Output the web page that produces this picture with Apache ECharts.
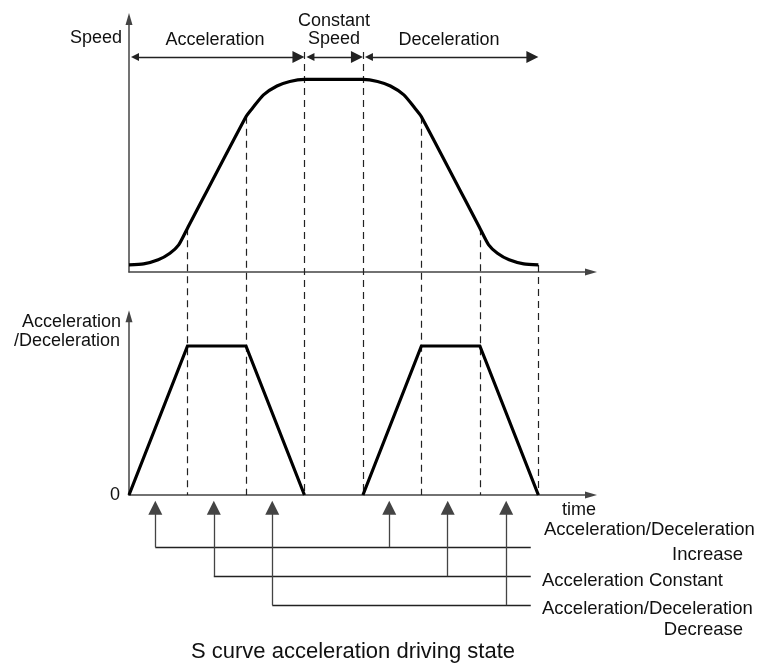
<!DOCTYPE html>
<html>
<head>
<meta charset="utf-8">
<script src="https://cdn.jsdelivr.net/npm/echarts@6/dist/echarts.min.js"></script>
<style>html,body{margin:0;padding:0;background:#fff;}#c{width:768px;height:664px;}</style>
</head>
<body>
<div id="c"></div>
<script>
// ---- data ----
const phaseNames = ['Acceleration', 'Constant\nSpeed', 'Deceleration'];
const phaseStart = [0, 3, 4];
const phaseEnd = [3, 4, 7];
const phaseLevel = 85;          // speed-axis level of the phase arrows
const boundaryTop = 87;         // dashed boundary lines at phase changes reach up to here

const speedT = [0, 0.25, 0.5, 0.7, 0.85, 1, 2, 2.13, 2.3, 2.53, 2.75, 3, 4, 4.25, 4.47, 4.7, 4.87, 5, 6, 6.15, 6.3, 6.5, 6.75, 7];
const speedV = [2.8, 3.2, 4.8, 7.4, 10.7, 17.3, 61.4, 65.3, 70.0, 73.5, 75.3, 76.1, 76.1, 75.3, 73.5, 70.0, 65.3, 61.4, 17.3, 10.7, 7.4, 4.8, 3.2, 2.8];

const accelT = [0, 1, 2, 3, 3.5, 4, 5, 6, 7];
const accelV = [0, 1, 1, 0, null, 0, 1, 1, 0];

const dashT = [1, 2, 3, 4, 5, 6, 7];

const markerT = [0.45, 1.45, 2.45, 4.45, 5.45, 6.45];
const markerGroup = [0, 1, 2, 0, 1, 2];
const groupLevel = [1.8, 2.8, 3.8];
const groupEnd = 6.87;
const tipLevel = 0.2;
const groupLabels = ['Acceleration/Deceleration\nIncrease', 'Acceleration Constant', 'Acceleration/Deceleration\nDecrease'];

// ---- styles ----
const FONT = '"Liberation Sans", Arial, sans-serif';
const TXT = '#111';
const AXC = '#444';

const chart = echarts.init(document.getElementById('c'), null, {renderer: 'canvas'});

const speedAt = t => speedV[speedT.indexOf(t)];

const xPxPerUnit = 462 / 7.9;
const topArrowOff = 6 / xPxPerUnit;
const bottomArrowOff = 7 / 29;

const axisArrow = {show: true, symbol: ['none', 'triangle'], symbolSize: [7, 12], lineStyle: {color: AXC, width: 1.5}};

const option = {
  animation: false,
  backgroundColor: '#fff',
  grid: [
    {left: 129, width: 462, top: 19, height: 253},
    {left: 129, width: 462, top: 316.2, height: 178.8},
    {left: 129, width: 462, top: 495, height: 116}
  ],
  xAxis: [
    {gridIndex: 0, type: 'value', min: 0, max: 7.9, axisLine: axisArrow, axisTick: {show: false}, axisLabel: {show: false}, splitLine: {show: false}},
    {gridIndex: 1, type: 'value', min: 0, max: 7.9, axisLine: axisArrow, axisTick: {show: false}, axisLabel: {show: false}, splitLine: {show: false}},
    {gridIndex: 2, type: 'value', min: 0, max: 7.9, show: false}
  ],
  yAxis: [
    {gridIndex: 0, type: 'value', min: 0, max: 100, axisLine: axisArrow, axisTick: {show: false}, axisLabel: {show: false}, splitLine: {show: false}},
    {gridIndex: 1, type: 'value', min: 0, max: 1.2, axisLine: axisArrow, axisTick: {show: false}, axisLabel: {show: false}, splitLine: {show: false}},
    {gridIndex: 2, type: 'value', min: 0, max: 4, inverse: true, show: false}
  ],
  series: [
    {
      type: 'line', xAxisIndex: 0, yAxisIndex: 0, smooth: 0.2, symbol: 'none', z: 5,
      lineStyle: {color: '#000', width: 3.2},
      data: speedT.map((t, i) => [t, speedV[i]])
    },
    {
      type: 'line', xAxisIndex: 1, yAxisIndex: 1, symbol: 'none', z: 5, connectNulls: false,
      lineStyle: {color: '#000', width: 3.2, join: 'miter'},
      data: accelT.map((t, i) => [t, accelV[i] === null ? '-' : accelV[i]])
    },
    {
      type: 'lines', coordinateSystem: 'cartesian2d', xAxisIndex: 0, yAxisIndex: 0, z: 4,
      symbol: ['triangle', 'triangle'], symbolSize: [8, 12],
      lineStyle: {color: '#222', width: 1.3, opacity: 1},
      data: phaseNames.map((n, i) => ({name: n, coords: [[phaseStart[i] + topArrowOff, phaseLevel], [phaseEnd[i] - topArrowOff, phaseLevel]]}))
    },
    {
      type: 'lines', coordinateSystem: 'cartesian2d', xAxisIndex: 2, yAxisIndex: 2, z: 4,
      symbol: ['none', 'triangle'], symbolSize: [7, 14],
      lineStyle: {color: '#444', width: 1.3, opacity: 1},
      data: markerT.map((t, i) => ({coords: [[t, groupLevel[markerGroup[i]]], [t, tipLevel + bottomArrowOff]]}))
    },
    {
      type: 'lines', coordinateSystem: 'cartesian2d', xAxisIndex: 2, yAxisIndex: 2, z: 3,
      symbol: ['none', 'none'],
      lineStyle: {color: '#222', width: 1.3, opacity: 1},
      data: groupLevel.map((lv, g) => ({name: groupLabels[g], coords: [[markerT[g], lv], [groupEnd, lv]]}))
    }
  ]
};
chart.setOption(option);

function txt(text, x, y, align, size) {
  return {type: 'text', x: x, y: y, z: 10, silent: true,
    style: {text: text, fill: TXT, font: (size || 18) + 'px ' + FONT, align: align || 'center', verticalAlign: 'middle'}};
}

const dashGraphics = dashT.map(t => {
  const topV = (phaseStart.indexOf(t) >= 0 || phaseEnd.indexOf(t) >= 0) && t !== 7 ? boundaryTop : speedAt(t);
  const p1 = chart.convertToPixel({gridIndex: 0}, [t, topV]);
  const p2 = chart.convertToPixel({gridIndex: 1}, [t, 0]);
  return {type: 'line', z: 1, silent: true,
    shape: {x1: Math.round(p1[0]) + 0.5, y1: p1[1], x2: Math.round(p2[0]) + 0.5, y2: p2[1]},
    style: {stroke: '#222', lineWidth: 1.2, lineDash: [7, 5]}};
});

const texts = [
  txt('Speed', 122, 38, 'right'),
  txt('Acceleration', 215, 40),
  txt('Constant', 334, 21),
  txt('Speed', 334, 39),
  txt('Deceleration', 449, 40),
  txt('Acceleration', 121, 322, 'right'),
  txt('/Deceleration', 120, 341, 'right'),
  txt('0', 120, 495, 'right'),
  txt('time', 562, 510, 'left'),
  txt('Acceleration/Deceleration', 544, 530, 'left', 18.5),
  txt('Increase', 743, 555, 'right', 18.5),
  txt('Acceleration Constant', 542, 581, 'left', 18.5),
  txt('Acceleration/Deceleration', 542, 609, 'left', 18.5),
  txt('Decrease', 743, 630, 'right', 18.5),
  txt('S curve acceleration driving state', 353, 652, 'center', 22)
];

chart.setOption({graphic: dashGraphics.concat(texts)});
</script>
</body>
</html>
